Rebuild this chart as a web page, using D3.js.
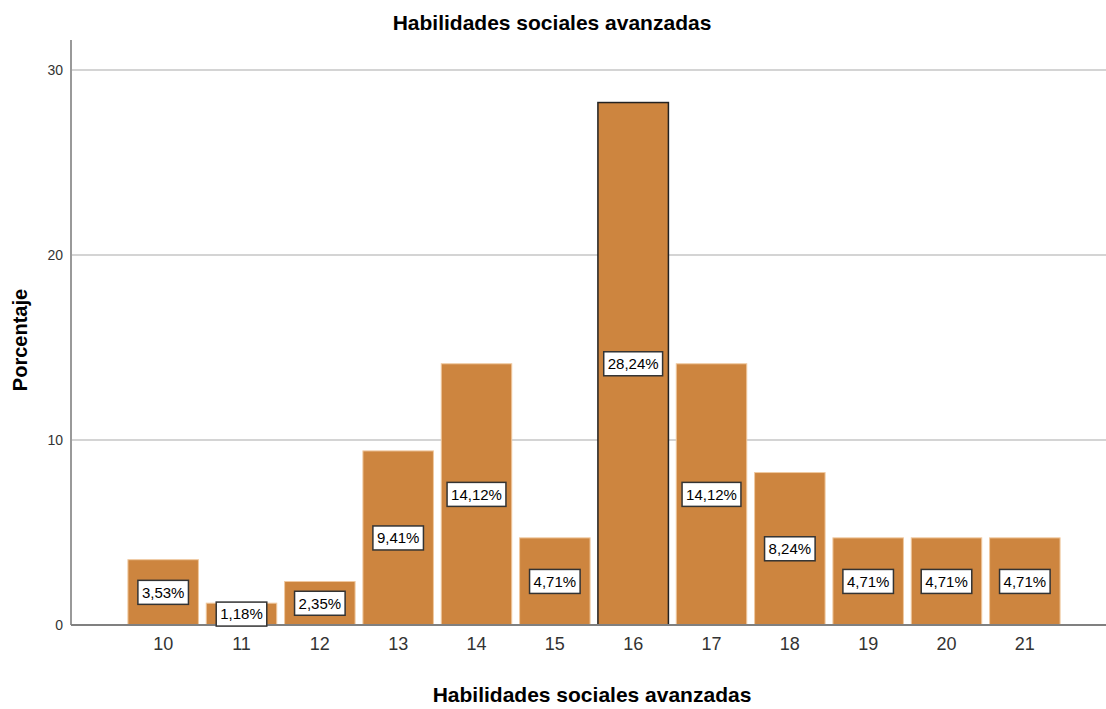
<!DOCTYPE html>
<html><head><meta charset="utf-8">
<script src="https://cdn.jsdelivr.net/npm/d3@7"></script>
<style>body{margin:0;background:#fff;} svg{display:block;font-family:Arial, "Liberation Sans", sans-serif;}</style>
</head><body>
<svg id="c" width="1106" height="709"></svg>
<script>
const categories = ["10","11","12","13","14","15","16","17","18","19","20","21"];
const values = [3.53, 1.18, 2.35, 9.41, 14.12, 4.71, 28.24, 14.12, 8.24, 4.71, 4.71, 4.71];
const labels = ["3,53%","1,18%","2,35%","9,41%","14,12%","4,71%","28,24%","14,12%","8,24%","4,71%","4,71%","4,71%"];
const yTicks = [0, 10, 20, 30];
const highlighted = "16";
const title = "Habilidades sociales avanzadas";
const xTitle = "Habilidades sociales avanzadas";
const yTitle = "Porcentaje";

const svg = d3.select("#c");
const plotL = 71, plotR = 1106, plotT = 40, plotB = 625;
const x = d3.scaleBand().domain(categories).range([124, 1064]).paddingInner(0.1).paddingOuter(0.05);
const y = d3.scaleLinear().domain([0, 31.62]).range([plotB, plotT]);

// gridlines
svg.append("g").selectAll("line").data(yTicks.filter(t => t > 0)).join("line")
  .attr("x1", plotL).attr("x2", plotR).attr("y1", d => y(d)).attr("y2", d => y(d))
  .attr("stroke", "#d4d4d4").attr("stroke-width", 2);

// bars
const data = categories.map((c, i) => ({c, v: values[i], l: labels[i]}));
svg.append("g").selectAll("rect").data(data).join("rect")
  .attr("x", d => x(d.c)).attr("width", x.bandwidth())
  .attr("y", d => y(d.v)).attr("height", d => y(0) - y(d.v))
  .attr("fill", "#cd853f")
  .attr("stroke", d => d.c === highlighted ? "#222" : "#f0c9a0")
  .attr("stroke-width", d => d.c === highlighted ? 1.5 : 1);

// axes
const yAxis = svg.append("g").attr("transform", `translate(${plotL},0)`)
  .call(d3.axisLeft(y).tickValues(yTicks).tickSize(0).tickPadding(8));
yAxis.select(".domain").remove();
yAxis.selectAll("text").attr("font-size", 14).attr("fill", "#333").attr("font-family", "Arial, 'Liberation Sans', sans-serif");
svg.append("line").attr("x1", plotL).attr("x2", plotL).attr("y1", plotT).attr("y2", plotB)
  .attr("stroke", "#999").attr("stroke-width", 2);

const xAxis = svg.append("g").attr("transform", `translate(0,${plotB})`)
  .call(d3.axisBottom(x).tickSize(0).tickPadding(12));
xAxis.select(".domain").remove();
xAxis.selectAll("text").attr("font-size", 18).attr("fill", "#333").attr("font-family", "Arial, 'Liberation Sans', sans-serif");
svg.append("line").attr("x1", plotL).attr("x2", plotR).attr("y1", plotB).attr("y2", plotB)
  .attr("stroke", "#808080").attr("stroke-width", 2);

// value labels
const lg = svg.append("g").selectAll("g").data(data).join("g")
  .attr("transform", d => `translate(${x(d.c) + x.bandwidth()/2},${(y(d.v) + y(0))/2})`);
lg.append("text").attr("text-anchor", "middle").attr("dy", "0.36em")
  .attr("font-size", 15).attr("fill", "#000").text(d => d.l)
  .each(function() {
    const b = this.getBBox();
    d3.select(this.parentNode).insert("rect", "text")
      .attr("x", b.x - 4).attr("y", -12).attr("width", b.width + 8).attr("height", 24)
      .attr("fill", "#fff").attr("stroke", "#333").attr("stroke-width", 1.5);
  });

// titles
svg.append("text").attr("x", 552).attr("y", 30).attr("text-anchor", "middle")
  .attr("font-size", 21).attr("font-weight", "bold").attr("fill", "#000").text(title);
svg.append("text").attr("x", 592).attr("y", 702).attr("text-anchor", "middle")
  .attr("font-size", 21).attr("font-weight", "bold").attr("fill", "#000").text(xTitle);
svg.append("text").attr("transform", "translate(27,340) rotate(-90)").attr("text-anchor", "middle")
  .attr("font-size", 20).attr("font-weight", "bold").attr("fill", "#000").text(yTitle);
</script>
</body></html>
